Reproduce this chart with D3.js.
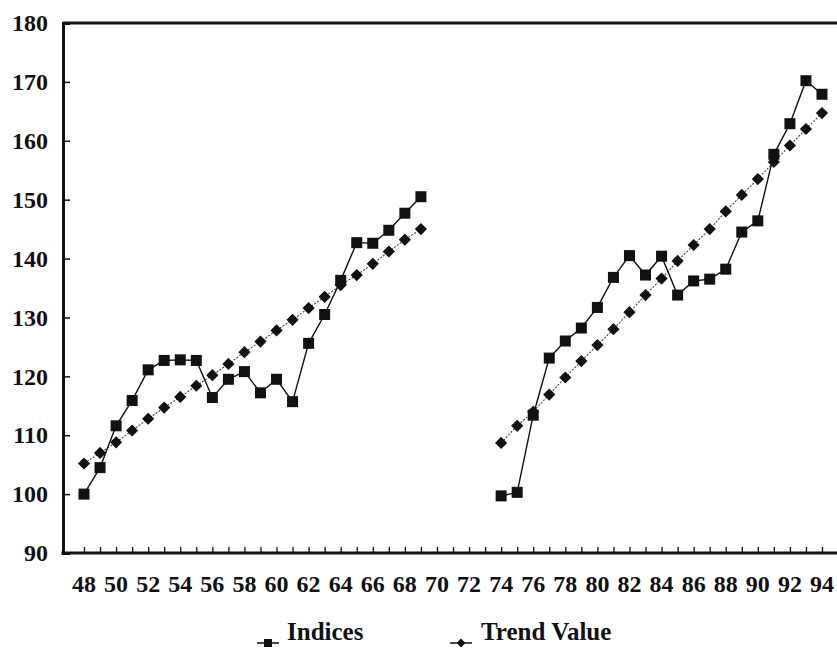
<!DOCTYPE html>
<html>
<head>
<meta charset="utf-8">
<script src="https://cdn.jsdelivr.net/npm/d3@7"></script>
<style>
  html, body { margin: 0; padding: 0; background: #fff; }
  svg { display: block; }
  text { font-family: "Liberation Serif", "Times New Roman", Tinos, serif; font-weight: bold; fill: #111; }
</style>
</head>
<body>
<svg id="chart" width="837" height="671"></svg>
<script>
// ---- data ----
const years1 = [48,49,50,51,52,53,54,55,56,57,58,59,60,61,62,63,64,65,66,67,68,69];
const indices1 = [100.0,104.5,111.6,115.9,121.1,122.7,122.8,122.7,116.4,119.5,120.8,117.2,119.5,115.7,125.6,130.5,136.3,142.7,142.6,144.8,147.7,150.5];
const trend1 = [105.2,107.0,108.8,110.8,112.8,114.7,116.5,118.4,120.2,122.1,124.1,125.9,127.8,129.6,131.6,133.5,135.5,137.2,139.1,141.2,143.2,145.0];

const years2 = [74,75,76,77,78,79,80,81,82,83,84,85,86,87,88,89,90,91,92,93,94];
const indices2 = [99.7,100.3,113.4,123.1,126.0,128.2,131.7,136.8,140.5,137.2,140.4,133.8,136.2,136.5,138.2,144.5,146.4,157.7,162.9,170.2,167.9];
const trend2 = [108.7,111.6,114.0,116.9,119.8,122.6,125.3,128.0,130.9,133.8,136.6,139.6,142.3,145.0,148.0,150.8,153.5,156.4,159.2,162.0,164.7];

const tickYears = d3.range(48, 95);
const labelYears = d3.range(48, 95, 2);
const yTicks = [90,100,110,120,130,140,150,160,170,180];
const seriesNames = ["Indices", "Trend Value"];

// ---- layout ----
const FONT = '"Liberation Serif", "Times New Roman", Tinos, serif';
const svg = d3.select("#chart");
const plotL = 63, plotR = 837, plotT = 23, plotB = 553;
const x = d3.scaleLinear().domain([48, 94]).range([84, 822]);
const y = d3.scaleLinear().domain([90, 180]).range([plotB, plotT]);

// frame line at top
svg.append("line").attr("x1", plotL).attr("x2", plotR).attr("y1", plotT).attr("y2", plotT)
  .attr("stroke", "#111").attr("stroke-width", 3);

// y axis
const yAxis = d3.axisLeft(y).tickValues(yTicks).tickSize(-7).tickPadding(15);
const gy = svg.append("g").attr("transform", `translate(${plotL},0)`).call(yAxis);
gy.attr("font-family", FONT);
gy.select(".domain").attr("stroke", "#111").attr("stroke-width", 3);
gy.selectAll(".tick line").attr("stroke", "#111").attr("stroke-width", 1.5)
  .filter(d => d === 90 || d === 180).remove();
gy.selectAll(".tick text").attr("font-size", 24).style("font-family", FONT)
  .attr("font-weight", "bold").attr("fill", "#111").attr("x", -15).attr("text-anchor", "end");

// x axis
const xAxis = d3.axisBottom(x).tickValues(tickYears).tickSize(-6).tickFormat(() => "");
const gx = svg.append("g").attr("transform", `translate(0,${plotB})`).call(xAxis);
gx.select(".domain").remove();
gx.selectAll(".tick line").attr("stroke", "#111").attr("stroke-width", 1.3);
svg.append("line").attr("x1", plotL - 1.5).attr("x2", plotR).attr("y1", plotB).attr("y2", plotB)
  .attr("stroke", "#111").attr("stroke-width", 3);

svg.append("g").selectAll("text").data(labelYears).join("text")
  .attr("x", d => x(d)).attr("y", 592)
  .attr("text-anchor", "middle").attr("font-size", 24).style("font-family", FONT)
  .text(d => d);

// ---- series ----
function drawSeries(years, vals, type) {
  const pts = years.map((yr, i) => [x(yr), y(vals[i])]);
  const line = d3.line();
  svg.append("path").attr("d", line(pts)).attr("fill", "none")
    .attr("stroke", type === "square" ? "#111" : "#444")
    .attr("stroke-width", type === "square" ? 1.4 : 1.1)
    .attr("stroke-dasharray", type === "square" ? null : "2,1.5");
  const g = svg.append("g");
  if (type === "square") {
    g.selectAll("rect").data(pts).join("rect")
      .attr("x", d => d[0] - 5.5).attr("y", d => d[1] - 5.5)
      .attr("width", 11).attr("height", 11).attr("fill", "#111");
  } else {
    g.selectAll("path").data(pts).join("path")
      .attr("d", d3.symbol().type(d3.symbolDiamond2).size(95))
      .attr("transform", d => `translate(${d[0]},${d[1]})`).attr("fill", "#111");
  }
}
drawSeries(years1, trend1, "diamond");
drawSeries(years2, trend2, "diamond");
drawSeries(years1, indices1, "square");
drawSeries(years2, indices2, "square");

// ---- legend ----
const legend = [
  { name: seriesNames[0], type: "square", lx: 257, tx: 287 },
  { name: seriesNames[1], type: "diamond", lx: 450, tx: 481 }
];
const lg = svg.append("g");
legend.forEach(l => {
  const ly = 643;
  lg.append("line").attr("x1", l.lx).attr("x2", l.lx + 22).attr("y1", ly).attr("y2", ly)
    .attr("stroke", "#111").attr("stroke-width", 1.5);
  if (l.type === "square") {
    lg.append("rect").attr("x", l.lx + 7).attr("y", ly - 4).attr("width", 8).attr("height", 8).attr("fill", "#111");
  } else {
    lg.append("path").attr("d", d3.symbol().type(d3.symbolDiamond2).size(50))
      .attr("transform", `translate(${l.lx + 11},${ly})`).attr("fill", "#111");
  }
  lg.append("text").attr("x", l.tx).attr("y", 640).attr("font-size", 25).style("font-family", FONT).text(l.name);
});
</script>
</body>
</html>
